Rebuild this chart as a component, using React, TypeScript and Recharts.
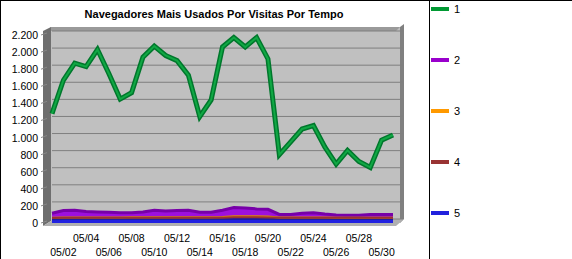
import React from "react";
import {
  ComposedChart,
  Line,
  Area,
  XAxis,
  YAxis,
  CartesianGrid,
} from "recharts";

const dates = [
  "05/01", "05/02", "05/03", "05/04", "05/05", "05/06", "05/07", "05/08",
  "05/09", "05/10", "05/11", "05/12", "05/13", "05/14", "05/15", "05/16",
  "05/17", "05/18", "05/19", "05/20", "05/21", "05/22", "05/23", "05/24",
  "05/25", "05/26", "05/27", "05/28", "05/29", "05/30", "05/31",
];

const series1 = [
  1280, 1670, 1870, 1830, 2030, 1750, 1450, 1525, 1940, 2070, 1960, 1900,
  1730, 1245, 1440, 2060, 2170, 2060, 2170, 1920, 800, 950, 1100, 1140, 890,
  690, 850, 720, 650, 970, 1030,
];
const series2 = [
  115, 145, 150, 135, 130, 125, 120, 120, 130, 150, 140, 145, 150, 125, 125,
  150, 180, 175, 165, 160, 100, 100, 115, 120, 105, 95, 90, 90, 100, 100, 100,
];
const series3 = [
  62, 64, 64, 64, 64, 64, 64, 66, 66, 66, 66, 66, 66, 66, 66, 70, 78, 80, 80,
  75, 64, 64, 64, 64, 64, 62, 62, 62, 62, 62, 62,
];
const series4 = [
  58, 60, 60, 60, 60, 60, 60, 60, 60, 60, 60, 60, 60, 60, 60, 62, 66, 66, 66,
  64, 60, 60, 60, 60, 60, 60, 60, 60, 60, 60, 60,
];
const series5 = [
  50, 52, 52, 52, 52, 52, 52, 52, 52, 52, 52, 52, 52, 52, 52, 52, 54, 54, 54,
  54, 52, 52, 52, 52, 52, 52, 52, 52, 52, 52, 52,
];

const seriesNames = ["1", "2", "3", "4", "5"];
const seriesColors = ["#009933", "#9900cc", "#ff9900", "#993333", "#2222dd"];

const yTicks = [0, 200, 400, 600, 800, 1000, 1200, 1400, 1600, 1800, 2000, 2200];
const xTicks = [
  "05/02", "05/04", "05/06", "05/08", "05/10", "05/12", "05/14", "05/16",
  "05/18", "05/20", "05/22", "05/24", "05/26", "05/28", "05/30",
];

const chartTitle = "Navegadores Mais Usados Por Visitas Por Tempo";

const data = dates.map((d, i) => ({
  date: d,
  s1: series1[i],
  s2: series2[i],
  s3: series3[i],
  s4: series4[i],
  s5: series5[i],
}));

const FONT = "'Liberation Sans', Arial, sans-serif";

function fmt(v: number): string {
  if (v >= 1000) {
    return `${Math.floor(v / 1000)}.${String(v % 1000).padStart(3, "0")}`;
  }
  return String(v);
}

const YTick = (props: any) => {
  const { x, y, payload } = props;
  return (
    <g>
      <line x1={x - 3} x2={x + 3} y1={y} y2={y - 2} stroke="#888" />
      <text
        x={x - 6}
        y={y}
        dy={4}
        textAnchor="end"
        fontFamily={FONT}
        fontSize={10.5}
        fill="#000"
      >
        {fmt(payload.value)}
      </text>
    </g>
  );
};

const XTick = (props: any) => {
  const { x, y, payload, index } = props;
  const row = index % 2 === 0 ? 1 : 0;
  return (
    <text
      x={x}
      y={y}
      dy={row === 0 ? 11 : 25}
      textAnchor="middle"
      fontFamily={FONT}
      fontSize={10.5}
      fill="#000"
    >
      {payload.value}
    </text>
  );
};

const GridLine = (props: any) => {
  const { x1, x2, y1, y2 } = props;
  return (
    <line
      x1={x1}
      x2={x2 + 2}
      y1={y1 - 4}
      y2={y2 - 4}
      stroke="#7f7f7f"
      strokeWidth={1}
    />
  );
};

const LegendBox = () => (
  <div style={{ position: "absolute", left: 431, top: 0, width: 141, height: 259 }}>
    {seriesNames.map((n, i) => (
      <div
        key={n}
        style={{
          position: "absolute",
          left: 0,
          top: 3 + i * 51,
          height: 12,
          display: "flex",
          alignItems: "center",
          fontFamily: FONT,
          fontSize: 11,
          color: "#000",
        }}
      >
        <span
          style={{
            display: "inline-block",
            width: 18,
            height: 4,
            background: seriesColors[i],
            marginRight: 5,
          }}
        />
        {n}
      </div>
    ))}
  </div>
);

export default function App() {
  return (
    <div
      style={{
        position: "fixed",
        left: 0,
        top: 0,
        width: 572,
        height: 259,
        background: "#fff",
        overflow: "hidden",
      }}
    >
      {/* 3D walls (decoration) */}
      <svg
        width={572}
        height={259}
        style={{ position: "absolute", left: 0, top: 0 }}
      >
        <polygon points="51,27 400,27 400,223 51,223" fill="#c0c0c0" />
        <polygon points="47,31 51,27 400,27 396,31" fill="#9a9a9a" />
        <polygon points="400,27 404,24 404,219 400,223" fill="#808080" />
        <polygon points="43,31 51,27 51,221 43,226" fill="#6e6e6e" />
        <polygon points="43,226 51,221 404,219 396,226" fill="#b0b0b0" />
      </svg>
      <div style={{ position: "absolute", left: 0, top: 0 }}>
        <ComposedChart
          width={572}
          height={259}
          data={data}
          margin={{ top: 35, right: 171, bottom: 0, left: 0 }}
        >
          <text
            x={214}
            y={18}
            textAnchor="middle"
            fontFamily={FONT}
            fontSize={11}
            fontWeight="bold"
            fill="#000"
          >
            {chartTitle}
          </text>
          <CartesianGrid
            vertical={false}
            horizontal={(p: any) => <GridLine key={p.key} {...p} />}
          />
          <XAxis
            dataKey="date"
            scale="point"
            padding={{ left: 0, right: 8 }}
            ticks={xTicks}
            interval={0}
            tick={<XTick />}
            tickLine={false}
            axisLine={false}
            height={36}
          />
          <YAxis
            domain={[0, 2200]}
            ticks={yTicks}
            width={52}
            tick={<YTick />}
            tickLine={false}
            axisLine={false}
            interval={0}
          />
          <Area
            dataKey="s2"
            name="2"
            type="linear"
            stroke="#7700a8"
            strokeWidth={3}
            fill="#9d10dd"
            fillOpacity={1}
            isAnimationActive={false}
            dot={false}
            activeDot={false}
          />
          <Line
            dataKey="s3"
            name="3"
            type="linear"
            stroke="#e08a00"
            strokeWidth={2}
            dot={false}
            activeDot={false}
            isAnimationActive={false}
          />
          <Line
            dataKey="s4"
            name="4"
            type="linear"
            stroke="#993333"
            strokeWidth={2}
            dot={false}
            activeDot={false}
            isAnimationActive={false}
          />
          <Area
            dataKey="s5"
            name="5"
            type="linear"
            stroke="#1c1ca0"
            strokeWidth={3}
            fill="#2222e0"
            fillOpacity={1}
            dot={false}
            activeDot={false}
            isAnimationActive={false}
          />
          <Line
            dataKey="s1"
            name="1"
            type="linear"
            stroke="#00772c"
            strokeWidth={5}
            dot={false}
            activeDot={false}
            isAnimationActive={false}
          />
          <Line
            dataKey="s1"
            name="1b"
            type="linear"
            stroke="#10a844"
            strokeWidth={2}
            dot={false}
            activeDot={false}
            legendType="none"
            isAnimationActive={false}
          />
        </ComposedChart>
      </div>
      <LegendBox />
      <div style={{ position: "absolute", left: 0, top: 0, width: 572, height: 1, background: "#000" }} />
      <div style={{ position: "absolute", left: 0, top: 0, width: 1, height: 259, background: "#000" }} />
      <div style={{ position: "absolute", left: 429, top: 0, width: 1, height: 259, background: "#000" }} />
    </div>
  );
}
